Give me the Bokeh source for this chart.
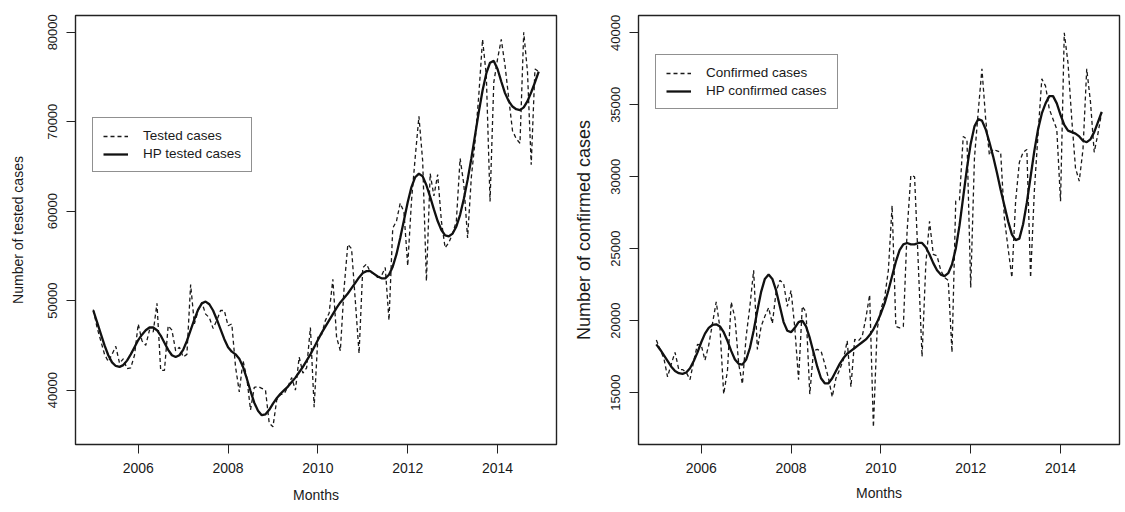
from bokeh.plotting import figure
from bokeh.layouts import row
from bokeh.models import Range1d, FixedTicker, Legend, LegendItem, ColumnDataSource, BasicTickFormatter
from bokeh.embed import file_html
from bokeh.resources import INLINE

# ---- data (monthly, Jan 2005 .. Dec 2014) ----
start_year = 2005
n_months = 120

tested_cases = [
    49000, 47000, 45500, 44000, 43200, 44000, 44900, 43000, 43500, 42400, 42500, 43900,
    47400, 45500, 45000, 46700, 46500, 49700, 42200, 42200, 47200, 46700, 44400, 44800,
    43700, 44000, 51800, 47400, 48900, 49800, 48500, 48100, 46900, 47800, 48900, 48900,
    47200, 47400, 42600, 39800, 43300, 41400, 37800, 40300, 40400, 40200, 40000, 36300,
    35900, 38900, 39500, 39600, 40400, 41400, 40000, 43700, 41900, 42500, 47000, 38100,
    45900, 46200, 47800, 48600, 52400, 45900, 44400, 51400, 56300, 55800, 50000, 44100,
    53700, 54100, 53200, 53000, 52600, 52800, 53700, 47800, 58100, 58900, 60900, 59900,
    53900, 61100, 66000, 70600, 65600, 52200, 64200, 61700, 64100, 58900, 55900, 56500,
    57500, 58900, 65900, 63000, 57000, 63800, 67800, 73000, 79200, 75200, 61100, 74400,
    77000, 79200, 76300, 72600, 69000, 68100, 67600, 80000, 75600, 65200, 75900, 75600,
]

hp_tested_cases = [
    48900, 47600, 46300, 45000, 43900, 43100, 42700, 42600, 42800, 43300, 44000, 44800,
    45600, 46200, 46700, 47000, 47000, 46700, 46100, 45300, 44500, 43900, 43700, 43900,
    44500, 45500, 46700, 47900, 49000, 49700, 49900, 49600, 48900, 47900, 46800, 45700,
    44800, 44300, 44000, 43500, 42600, 41300, 39900, 38600, 37700, 37200, 37300, 37800,
    38500, 39100, 39600, 40000, 40400, 40900, 41400, 42000, 42600, 43300, 44000, 44800,
    45600, 46400, 47100, 47800, 48500, 49200, 49800, 50300, 50800, 51400, 52000, 52600,
    53100, 53300, 53300, 53000, 52700, 52500, 52500, 52900, 53800, 55200, 57000, 59000,
    61000, 62700, 63800, 64200, 63900, 62900, 61600, 60200, 58900, 57900, 57300, 57200,
    57500, 58300, 59600, 61400, 63500, 65900, 68500, 71100, 73500, 75400, 76600, 76800,
    75900, 74500, 73200, 72300, 71700, 71400, 71300, 71600, 72300, 73300, 74400, 75600,
]

confirmed_cases = [
    18650, 18000, 17400, 16100, 17000, 17800, 16600, 16600, 16400, 15900, 17200, 18350,
    18300, 17250, 18300, 19800, 21300, 19500, 14900, 16500, 21300, 20200, 17000, 15600,
    18900, 21000, 23500, 18000, 19600, 20300, 20900, 19800, 22000, 22800, 22600, 21000,
    22100, 19500, 15900, 21000, 20600, 14900, 17900, 18000, 17900, 17000, 16000, 14700,
    16000, 16600, 17300, 18600, 15400, 18700, 18600, 18900, 20200, 21800, 12600, 19400,
    20800, 21600, 23500, 28000, 19600, 19500, 19600, 26200, 30100, 30000, 23900, 17500,
    23900, 26900, 24600, 24500, 23500, 23000, 22800, 17800, 28300, 28400, 32800, 32600,
    22300, 31300, 34500, 37500, 34000, 31500, 31900, 31800, 31700, 27100, 25000, 23000,
    28300, 31000, 31700, 31900, 23000, 29000, 33000, 36800, 36300, 34700, 34000, 33300,
    28300, 40000, 37900, 34000, 30600, 29700, 31900, 37500, 35200, 31700, 33000, 34500,
]

hp_confirmed_cases = [
    18350, 18000, 17600, 17200, 16800, 16500, 16350, 16300, 16400, 16700, 17200, 17800,
    18500, 19100, 19500, 19700, 19750, 19600, 19200, 18600, 17900, 17300, 17000, 16950,
    17300, 18100, 19300, 20700, 22000, 22900, 23200, 22900, 22100, 21000, 19900, 19300,
    19200, 19500, 19900, 20000, 19600, 18800, 17800, 16800, 16000, 15650, 15650, 16000,
    16500, 17000, 17400, 17700, 17900, 18100, 18300, 18500, 18700, 19000, 19400, 19900,
    20500, 21200, 22100, 23100, 24100, 24900, 25300, 25400, 25300, 25300, 25400, 25400,
    25100, 24600, 24000, 23500, 23200, 23100, 23300, 23900, 25000, 26600, 28600, 30600,
    32300, 33500, 34000, 33900, 33300, 32400, 31400, 30300, 29100, 28000, 26900, 26000,
    25600, 25700, 26700, 28200, 30000, 31800, 33300, 34400, 35100, 35600, 35600, 35100,
    34300, 33600, 33200, 33100, 33000, 32800, 32500, 32400, 32600, 33100, 33800, 34500,
]

x_ticks = [2006, 2008, 2010, 2012, 2014]
left_y_ticks = [40000, 50000, 60000, 70000, 80000]
right_y_ticks = [15000, 20000, 25000, 30000, 35000, 40000]

time = [start_year + i / 12 for i in range(n_months)]

FONT = "Liberation Sans"


def make_panel(width, height, min_left, min_right, min_bottom, y_range, y_ticks,
               raw, hp, raw_label, hp_label, y_label, y_label_size, y_label_standoff,
               legend_xy, legend_font, months_standoff):
    p = figure(width=width, height=height, output_backend="svg", toolbar_location=None,
               x_range=Range1d(2004.603, 2015.313), y_range=Range1d(*y_range),
               min_border_left=min_left, min_border_right=min_right,
               min_border_top=15, min_border_bottom=min_bottom)
    p.background_fill_color = "white"
    p.border_fill_color = "white"
    p.outline_line_color = "#222222"
    p.outline_line_width = 1.4
    p.xgrid.visible = False
    p.ygrid.visible = False

    src = ColumnDataSource(dict(t=time, raw=raw, hp=hp))
    r_raw = p.line("t", "raw", source=src, line_color="#1a1a1a", line_width=1.3,
                   line_dash="4 3")
    r_hp = p.line("t", "hp", source=src, line_color="#111111", line_width=2.3)

    for ax in (p.xaxis[0], p.yaxis[0]):
        ax.axis_line_color = "#222222"
        ax.major_tick_line_color = "#222222"
        ax.major_tick_out = 9
        ax.major_tick_in = 0
        ax.minor_tick_line_color = None
        ax.major_label_text_font = FONT
        ax.major_label_text_color = "#1a1a1a"
        ax.axis_label_text_font = FONT
        ax.axis_label_text_font_style = "normal"
        ax.axis_label_text_color = "#1a1a1a"

    p.xaxis.ticker = FixedTicker(ticks=x_ticks)
    p.xaxis.major_label_text_font_size = "14px"
    p.xaxis.major_label_standoff = 9
    p.xaxis.axis_label = "Months"
    p.xaxis.axis_label_text_font_size = "14px"
    p.xaxis.axis_label_standoff = months_standoff

    p.yaxis.ticker = FixedTicker(ticks=y_ticks)
    p.yaxis.formatter = BasicTickFormatter(use_scientific=False)
    p.yaxis.major_label_orientation = "vertical"
    p.yaxis.major_label_text_font_size = "13px"
    p.yaxis.major_label_standoff = 9
    p.yaxis.axis_label = y_label
    p.yaxis.axis_label_text_font_size = y_label_size
    p.yaxis.axis_label_standoff = y_label_standoff

    legend = Legend(items=[LegendItem(label=raw_label, renderers=[r_raw]),
                           LegendItem(label=hp_label, renderers=[r_hp])],
                    location=legend_xy)
    legend.label_text_font = FONT
    legend.label_text_font_size = legend_font
    legend.label_text_color = "#1a1a1a"
    legend.label_height = 14
    legend.glyph_height = 14
    legend.glyph_width = 25
    legend.label_standoff = 15
    legend.spacing = 3
    legend.padding = 10
    legend.margin = 0
    legend.border_line_color = "#222222"
    legend.border_line_width = 1.2
    legend.background_fill_color = "white"
    legend.background_fill_alpha = 1.0
    p.add_layout(legend)
    return p


p_left = make_panel(560, 510, 75, 4, 66, (33924, 81876), left_y_ticks,
                    tested_cases, hp_tested_cases, "Tested cases", "HP tested cases",
                    "Number of tested cases", "14px", 20, (17, 272), "13.5px", 11)
p_right = make_panel(564, 510, 78, 5, 62, (11396, 41204), right_y_ticks,
                     confirmed_cases, hp_confirmed_cases, "Confirmed cases", "HP confirmed cases",
                     "Number of confirmed cases", "18px", 15, (17, 335), "13.5px", 9)

layout = row(p_left, p_right)
open("out.html", "w").write(file_html(layout, INLINE))
